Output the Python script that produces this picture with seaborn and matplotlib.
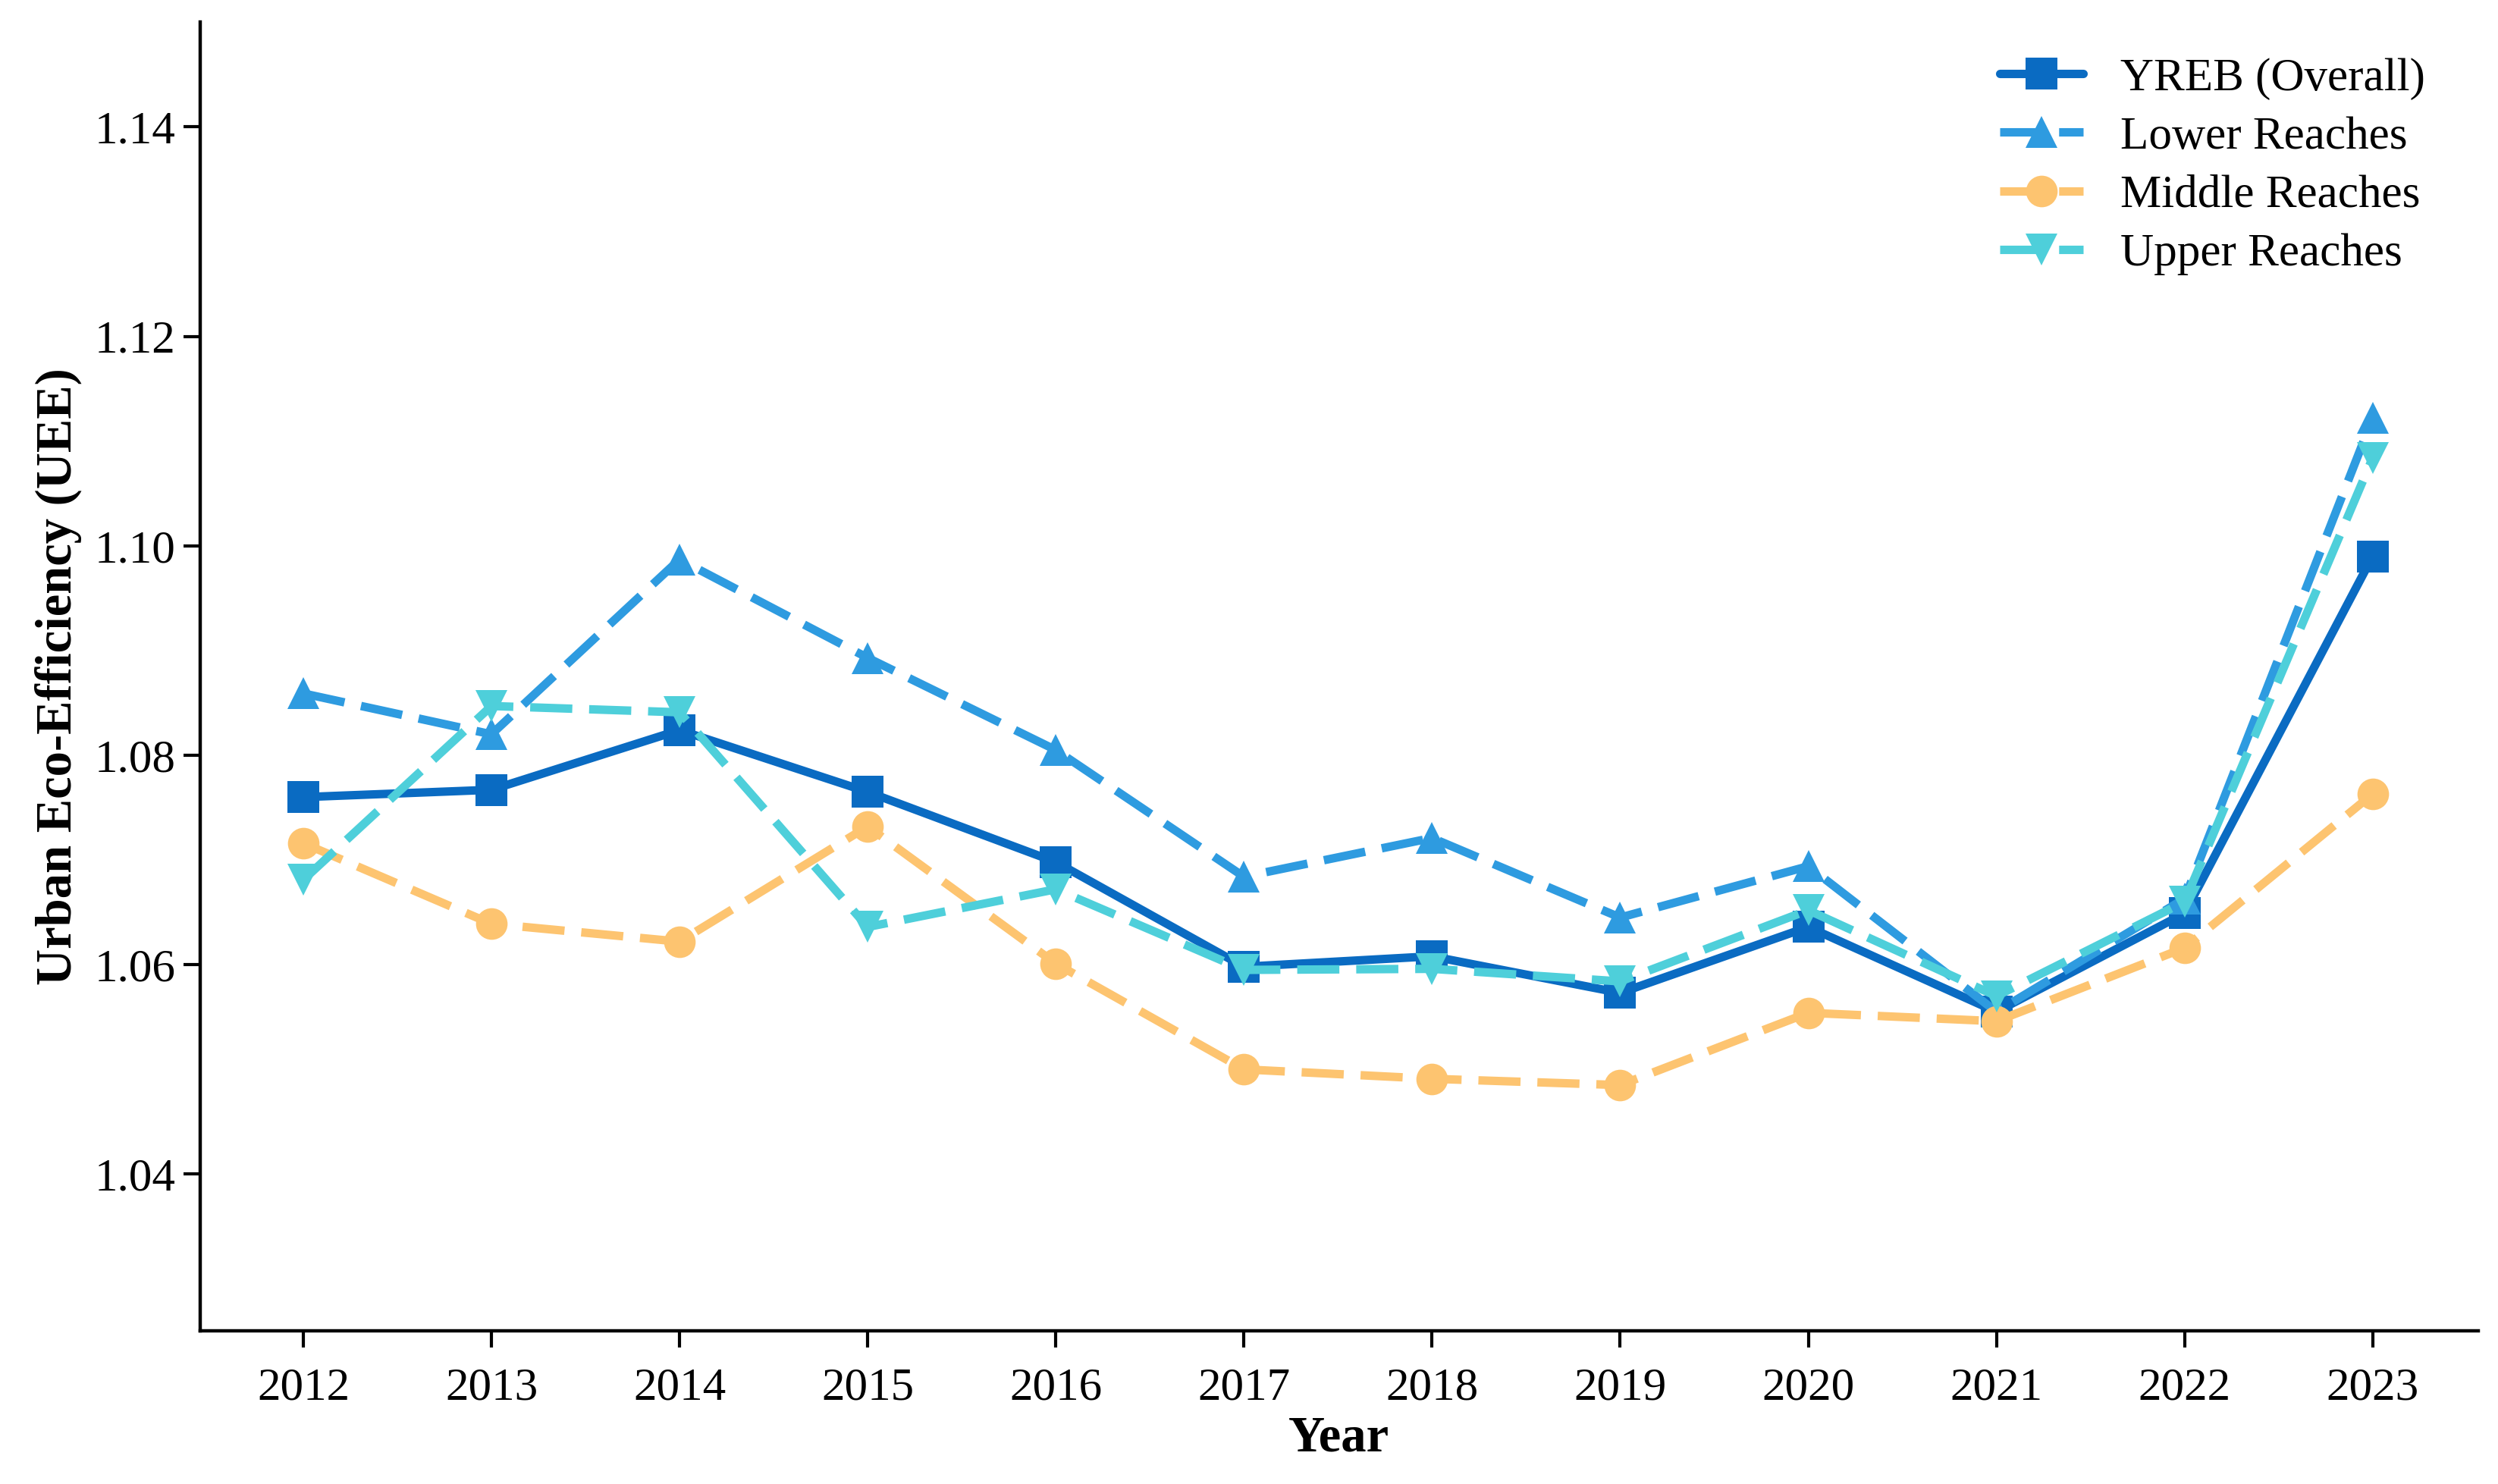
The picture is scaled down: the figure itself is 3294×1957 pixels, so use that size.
import pandas as pd
import seaborn as sns
import matplotlib.pyplot as plt

years = list(range(2012, 2024))
yreb = [1.0760, 1.0767, 1.0824, 1.0765, 1.0698, 1.0598, 1.0608, 1.0573, 1.0636, 1.0555, 1.0649, 1.0990]
lower = [1.0859, 1.0820, 1.0987, 1.0893, 1.0805, 1.0684, 1.0721, 1.0645, 1.0694, 1.0555, 1.0663, 1.1122]
middle = [1.0716, 1.0639, 1.0622, 1.0732, 1.0601, 1.0500, 1.0491, 1.0485, 1.0554, 1.0546, 1.0616, 1.0763]
upper = [1.0681, 1.0847, 1.0841, 1.0636, 1.0672, 1.0595, 1.0596, 1.0584, 1.0652, 1.0570, 1.0660, 1.1084]

series_names = ['YREB (Overall)', 'Lower Reaches', 'Middle Reaches', 'Upper Reaches']
series_values = [yreb, lower, middle, upper]
colors = ['#0a6bc2', '#2e9be0', '#fdc470', '#4ecfda']
markers = ['s', '^', 'o', 'v']
dash_patterns = [None, (5, 2), (5, 2), (5, 2)]

sns.set_style('ticks')
plt.rcParams['font.family'] = ['Liberation Serif', 'DejaVu Serif']
plt.rcParams['text.color'] = 'black'
plt.rcParams['axes.labelcolor'] = 'black'
plt.rcParams['xtick.color'] = 'black'
plt.rcParams['ytick.color'] = 'black'

fig, ax = plt.subplots(figsize=(16.47, 9.785), dpi=200)
fig.subplots_adjust(left=0.080, right=0.992, bottom=0.103, top=0.985)

for name, vals, c, m, dp in zip(series_names, series_values, colors, markers, dash_patterns):
    df = pd.DataFrame({'Year': years, 'UEE': vals})
    kw = {} if dp is None else {'dashes': dp}
    sns.lineplot(data=df, x='Year', y='UEE', ax=ax, color=c, marker=m,
                 linewidth=4.0, markersize=15,
                 markeredgewidth=0, label=name, **kw)

ax.set_xlim(2011.45, 2023.56)
ax.set_ylim(1.025, 1.150)
ax.set_xticks(years)
ax.set_yticks([1.04, 1.06, 1.08, 1.10, 1.12, 1.14])
ax.set_yticklabels(['1.04', '1.06', '1.08', '1.10', '1.12', '1.14'])
ax.tick_params(axis='both', labelsize=22, length=8, width=1.5, direction='out')
ax.tick_params(axis='x', pad=9)
ax.set_xlabel('Year', fontsize=24, fontweight='bold', labelpad=3)
ax.set_ylabel('Urban Eco-Efficiency (UEE)', fontsize=24, fontweight='bold', labelpad=6)
sns.despine(ax=ax)
for s in ['left', 'bottom']:
    ax.spines[s].set_linewidth(1.6)
    ax.spines[s].set_color('black')

ax.legend(loc='upper right', bbox_to_anchor=(0.995, 1.005), frameon=False,
          fontsize=22, handlelength=1.8, handletextpad=0.8, labelspacing=0.35)

plt.savefig('out.png', dpi=200)
